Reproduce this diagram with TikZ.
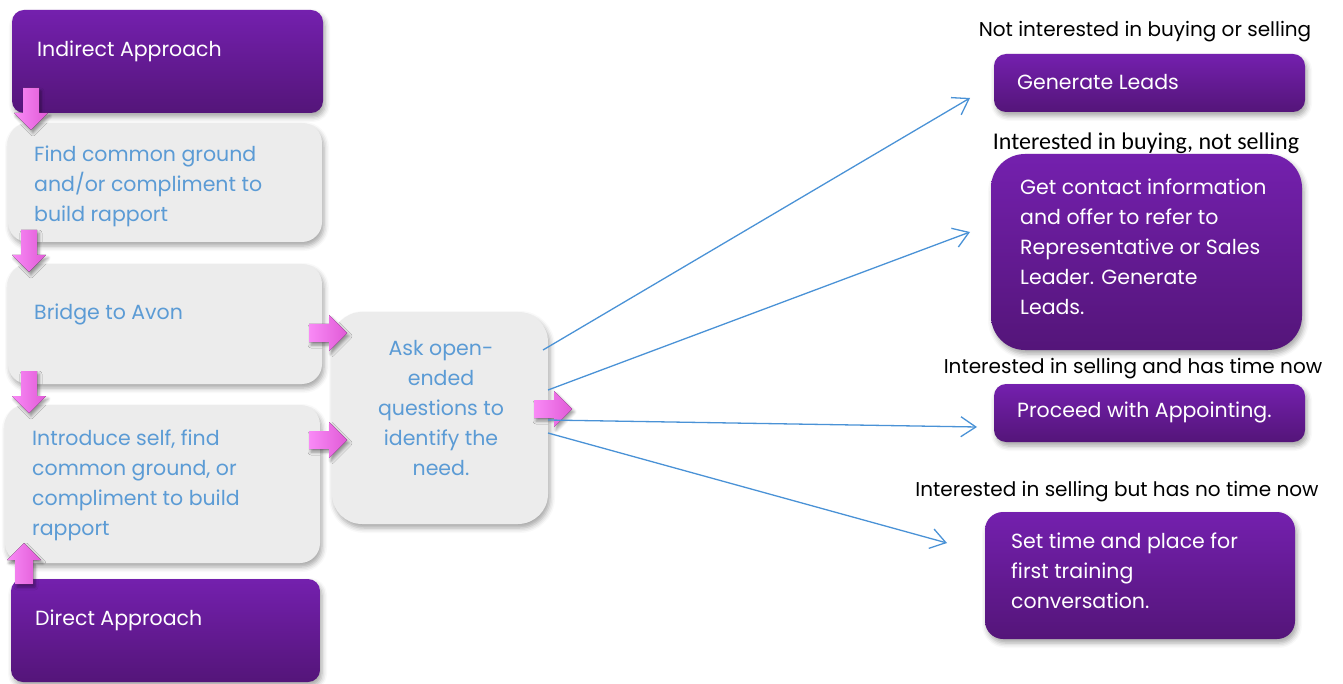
\documentclass[tikz,border=0pt]{standalone}
\usepackage{fontspec}
\setmainfont{Poppins}
\newfontfamily\labelfont{Poppins}
\newfontfamily\calfont{Carlito}
\usetikzlibrary{shadows.blur,arrows.meta}

\definecolor{purpTop}{HTML}{7420AE}
\definecolor{purpBot}{HTML}{541579}
\definecolor{greyBox}{HTML}{ECECEC}
\definecolor{blueText}{HTML}{5B9BD5}
\definecolor{blueLine}{HTML}{4A92D6}
\definecolor{pinkA}{HTML}{F98AF6}
\definecolor{pinkB}{HTML}{E05AD6}

\tikzset{
  x=1pt, y=-1pt,
  boxbase/.style={inner sep=0pt, outer sep=0pt,
    blur shadow={shadow xshift=2pt, shadow yshift=-4pt, shadow blur radius=5pt, shadow opacity=35}},
  purplebox/.style={boxbase, rounded corners=12pt, top color=purpTop, bottom color=purpBot, draw=none},
  greybox/.style={boxbase, rounded corners=20pt, fill=greyBox, draw=none},
  whitetxt/.style={text=white, font=\fontsize{20.5}{30}\selectfont, align=left, inner sep=0pt, anchor=west},
  bluetxt/.style={text=blueText, font=\fontsize{20.5}{30}\selectfont, align=left, inner sep=0pt, anchor=west},
  cond/.style={text=black, font=\labelfont\fontsize{20}{24}\selectfont, inner sep=0pt},
  link/.style={blueLine, line width=1.3pt, -{Straight Barb[length=15pt,width=20pt,line width=1.3pt]}},
  pinkfill/.style={left color=pinkA, right color=pinkB, draw=none,
    blur shadow={shadow xshift=2pt, shadow yshift=-3pt, shadow blur radius=3pt, shadow opacity=40}}
}

% pink block arrows, given by their tip
\newcommand{\downarrowat}[2]{%
  \fill[pinkfill, shift={(#1,#2)}] (-8,-42) -- (8,-42) -- (8,-17) -- (17,-17) -- (0,0)
    -- (-17,-17) -- (-8,-17) -- cycle;}
\newcommand{\uparrowat}[2]{%
  \fill[pinkfill, shift={(#1,#2)}] (-9,41) -- (9,41) -- (9,17) -- (17,17) -- (0,0)
    -- (-17,17) -- (-9,17) -- cycle;}
\newcommand{\rightarrowat}[2]{%
  \fill[pinkfill, shift={(#1,#2)}] (-38,-9) -- (-18,-9) -- (-18,-18) -- (0,0)
    -- (-18,18) -- (-18,9) -- (-38,9) -- cycle;}

\begin{document}
\begin{tikzpicture}
\useasboundingbox (0,0) rectangle (1343,684);

% left column
\node[purplebox, minimum width=311pt, minimum height=103pt] (ind) at (167.5,61.5) {};
\node[greybox, minimum width=314pt, minimum height=119pt] (fcg) at (165,182.5) {};
\node[greybox, minimum width=314pt, minimum height=120pt] (bta) at (165,324) {};
\node[greybox, minimum width=315pt, minimum height=158pt] (isf) at (162.5,484) {};
\node[purplebox, minimum width=309pt, minimum height=103pt] (dir) at (165.5,630.5) {};

% middle
\node[greybox, rounded corners=30pt, minimum width=216pt, minimum height=212pt] (ask) at (440,418) {};

% right column
\node[purplebox, minimum width=311pt, minimum height=58pt] (gen) at (1149.5,83) {};
\node[purplebox, rounded corners=34pt, minimum width=311pt, minimum height=196pt] (con) at (1146.5,252) {};
\node[purplebox, minimum width=311pt, minimum height=58pt] (pro) at (1149.5,413) {};
\node[purplebox, rounded corners=18pt, minimum width=310pt, minimum height=127pt] (set) at (1140,575.5) {};

% texts
\node[whitetxt] (tind) at (37,51) {Indirect Approach};
\node[bluetxt, anchor=north west] (tfcg) at (34,146) {Find common ground\\and/or compliment to\\build rapport};
\node[bluetxt] (tbta) at (34,314) {Bridge to Avon};
\node[bluetxt, anchor=north west] (tisf) at (32,430) {Introduce self, find\\common ground, or\\compliment to build\\rapport};
\node[whitetxt] (tdir) at (35,620) {Direct Approach};
\node[bluetxt, align=center, anchor=north] (task) at (441,340) {Ask open-\\ended\\questions to\\identify the\\need.};

\node[whitetxt] (tgen) at (1017,82) {Generate Leads};
\node[whitetxt, anchor=north west] (tcon) at (1020,179) {Get contact information\\and offer to refer to\\Representative or Sales\\Leader. Generate\\Leads.};
\node[whitetxt] (tpro) at (1017,412) {Proceed with Appointing.};
\node[whitetxt, anchor=north west] (tset) at (1011,533) {Set time and place for\\first training\\conversation.};

% condition labels
\node[cond] (c1) at (1145,32) {Not interested in buying or selling};
\node[cond, font=\calfont\fontsize{24}{28}\selectfont] (c2) at (1146,143) {Interested in buying, not selling};
\node[cond] (c3) at (1133,369) {Interested in selling and has time now};
\node[cond] (c4) at (1117,492) {Interested in selling but has no time now};

% pink block arrows
\downarrowat{31}{130}
\downarrowat{29}{272}
\downarrowat{29}{413}
\uparrowat{24}{543}
\rightarrowat{347}{333}
\rightarrowat{347}{440}
\rightarrowat{572}{409}

% branches out of the question box
\coordinate (o1) at (543,350);
\coordinate (o2) at (548,390);
\coordinate (o3) at (548,420);
\coordinate (o4) at (548,433);
\coordinate (e1) at (970,98);
\coordinate (e2) at (970,232);
\coordinate (e3) at (977,427);
\coordinate (e4) at (947,543);
\draw[link] (o1) -- (e1);
\draw[link] (o2) -- (e2);
\draw[link] (o3) -- (e3);
\draw[link] (o4) -- (e4);
\end{tikzpicture}
\end{document}
